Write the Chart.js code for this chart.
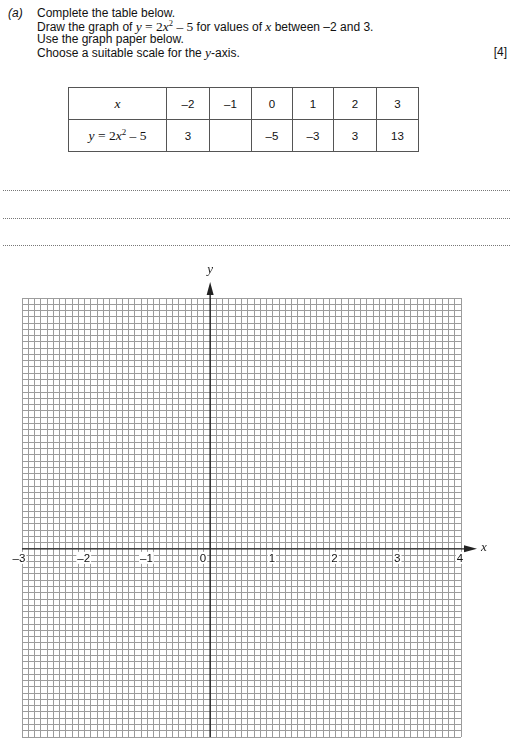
<!DOCTYPE html>
<html><head><meta charset="utf-8">
<script src="https://cdn.jsdelivr.net/npm/chart.js@4.4.0/dist/chart.umd.min.js"></script>
<style>
html,body{margin:0;padding:0;background:#fff;}
body{width:510px;height:738px;position:relative;overflow:hidden;font-family:Arial,"Liberation Sans",sans-serif;color:#111;}
.t{position:absolute;font-size:12px;line-height:13px;white-space:nowrap;}
.m{font-family:"Times New Roman","Liberation Serif",serif;font-style:italic;font-size:13.5px;}
.r{font-family:"Times New Roman","Liberation Serif",serif;font-size:13.5px;}
#tbl{position:absolute;left:68px;top:87px;border-collapse:collapse;font-size:11.5px;table-layout:fixed;}
#tbl td{border:1px solid #555;height:31px;text-align:center;padding:0;}
.dot{position:absolute;left:3px;width:507px;border-top:1px dotted #777;height:0;}
#wrap{position:absolute;left:0;top:250px;width:510px;height:488px;}
</style></head>
<body>
<div class="t" style="left:8px;top:7px;font-style:italic;">(a)</div>
<div class="t" style="left:37px;top:7px;">Complete the table below.</div>
<div class="t" style="left:37px;top:20px;">Draw the graph of <span class="m">y</span> <span class="r">= 2</span><span class="m">x</span><sup style="font-size:8.5px;line-height:0;font-family:'Liberation Serif',serif;">2</sup> <span class="r">– 5</span> for values of <span class="m">x</span> between –2 and 3.</div>
<div class="t" style="left:37px;top:33px;">Use the graph paper below.</div>
<div class="t" style="left:37px;top:46px;">Choose a suitable scale for the <span class="m">y</span>-axis.</div>
<div class="t" style="right:3px;top:46px;">[4]</div>
<table id="tbl"></table>
<div class="dot" style="top:190px;"></div>
<div class="dot" style="top:218px;"></div>
<div class="dot" style="top:245px;"></div>
<div id="wrap"><canvas id="c" width="510" height="488"></canvas></div>
<script>
// ---- data ----
const tableX = [-2, -1, 0, 1, 2, 3];
const tableY = [3, null, -5, -3, 3, 13];
const xAxisLabels = [-3, -2, -1, 0, 1, 2, 3, 4];
const xRange = [-3, 4];
const yRange = [-3, 4];
const gridStep = 0.1;

const fmt = v => v === null ? '' : (v < 0 ? '–' + Math.abs(v) : String(v));

// ---- table ----
(function(){
  const colW = [98, 43, 42, 41, 41, 43, 42];
  const tbl = document.getElementById('tbl');
  let cg = '<colgroup>' + colW.map(w => '<col style="width:' + w + 'px">').join('') + '</colgroup>';
  let r1 = '<tr><td><span class="m">x</span></td>' + tableX.map(v => '<td>' + fmt(v) + '</td>').join('') + '</tr>';
  let r2 = '<tr><td><span class="m">y</span><span class="r"> = 2</span><span class="m">x</span><sup style="font-size:9px;line-height:0;font-family:\'Liberation Serif\',serif;">2</sup><span class="r"> – 5</span></td>' +
           tableY.map(v => '<td>' + fmt(v) + '</td>').join('') + '</tr>';
  tbl.innerHTML = cg + r1 + r2;
})();

// ---- chart ----
const paper = {
  id: 'paper',
  afterDraw(chart) {
    const {ctx, scales: {x, y}, chartArea: a} = chart;
    const px0 = x.getPixelForValue(0);
    const py0 = y.getPixelForValue(0);
    ctx.save();
    ctx.strokeStyle = '#222';
    ctx.fillStyle = '#222';
    ctx.lineWidth = 1.4;
    // x axis
    const xTip = a.right + 16;
    ctx.beginPath(); ctx.moveTo(a.left, py0); ctx.lineTo(xTip - 8, py0); ctx.stroke();
    ctx.beginPath(); ctx.moveTo(xTip, py0); ctx.lineTo(xTip - 13, py0 - 3.5); ctx.lineTo(xTip - 13, py0 + 3.5); ctx.closePath(); ctx.fill();
    // y axis
    const yTip = a.top - 16;
    ctx.beginPath(); ctx.moveTo(px0, a.bottom); ctx.lineTo(px0, yTip + 8); ctx.stroke();
    ctx.beginPath(); ctx.moveTo(px0, yTip); ctx.lineTo(px0 - 3.5, yTip + 13); ctx.lineTo(px0 + 3.5, yTip + 13); ctx.closePath(); ctx.fill();
    // axis names
    ctx.font = 'italic 13px "Liberation Serif", "Times New Roman", serif';
    ctx.textAlign = 'center'; ctx.textBaseline = 'middle';
    ctx.fillText('x', xTip + 7, py0 - 1);
    ctx.fillText('y', px0, yTip - 12);
    // tick labels
    ctx.font = '11.5px Arial, "Liberation Sans", sans-serif';
    xAxisLabels.forEach(v => {
      const t = fmt(v);
      const w = ctx.measureText(t).width;
      let cx = x.getPixelForValue(v) - 1;
      if (v === 0) cx = px0 - 4 - w / 2;
      if (v === xRange[0]) cx -= 2;
      const cy = py0 + 9;
      ctx.fillStyle = '#fff';
      ctx.fillRect(cx - w / 2 - 1, cy - 6, w + 2, 12);
      ctx.fillStyle = '#111';
      ctx.fillText(t, cx, cy + 0.5);
    });
    ctx.restore();
  }
};

new Chart(document.getElementById('c'), {
  type: 'scatter',
  data: { datasets: [{ data: [] }] },
  options: {
    responsive: false,
    animation: false,
    events: [],
    layout: { padding: { left: 22, right: 49, top: 48, bottom: 1 } },
    plugins: { legend: { display: false }, tooltip: { enabled: false } },
    scales: {
      x: {
        type: 'linear', min: xRange[0], max: xRange[1],
        ticks: { display: false, stepSize: gridStep, autoSkip: false, maxTicksLimit: 1000 },
        grid: { color: '#9c9c9c', lineWidth: 1, drawTicks: false },
        border: { display: false }
      },
      y: {
        type: 'linear', min: yRange[0], max: yRange[1],
        ticks: { display: false, stepSize: gridStep, autoSkip: false, maxTicksLimit: 1000 },
        grid: { color: '#9c9c9c', lineWidth: 1, drawTicks: false },
        border: { display: false }
      }
    }
  },
  plugins: [paper]
});
</script>
</body></html>
